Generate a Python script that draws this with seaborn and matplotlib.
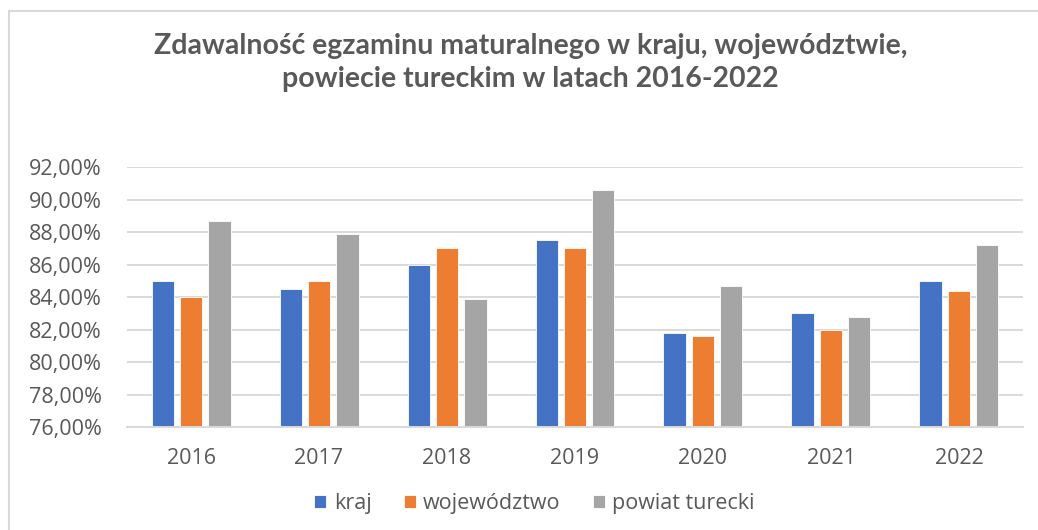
import pandas as pd
import seaborn as sns
import matplotlib.pyplot as plt
from matplotlib.ticker import FuncFormatter
from matplotlib.patches import Rectangle

# values (fraction of passed exams)
years = ["2016", "2017", "2018", "2019", "2020", "2021", "2022"]
kraj = [0.850, 0.845, 0.860, 0.875, 0.818, 0.830, 0.850]
wojewodztwo = [0.840, 0.850, 0.870, 0.870, 0.816, 0.820, 0.844]
powiat_turecki = [0.887, 0.879, 0.839, 0.906, 0.847, 0.828, 0.872]
series_names = ["kraj", "województwo", "powiat turecki"]
colors = ["#4472C4", "#ED7D31", "#A5A5A5"]

TEXT = "#595959"

df = pd.DataFrame({
    "year": years * 3,
    "value": kraj + wojewodztwo + powiat_turecki,
    "series": [s for s in series_names for _ in years],
})

sns.set_style("white")
plt.rcParams['font.family'] = ['Open Sans', 'DejaVu Sans']

fig = plt.figure(figsize=(10.38, 5.30), dpi=100)
ax = fig.add_axes([0.1224, 0.1943, 0.8631, 0.4906])

sns.barplot(
    data=df, x="year", y="value", hue="series",
    palette=colors, saturation=1, width=0.666, gap=0.22,
    edgecolor="white", linewidth=0.6, ax=ax, legend=True,
)

ax.set_ylim(0.76, 0.92)
ax.set_yticks([0.76 + 0.02 * i for i in range(9)])
ax.yaxis.set_major_formatter(FuncFormatter(lambda v, _: f"{v * 100:.2f}%".replace(".", ",")))
ax.grid(axis="y", color="#D9D9D9", linewidth=1.4)
ax.set_axisbelow(True)
ax.set_xlim(-0.5, len(years) - 0.5)
for side in ["left", "right", "top"]:
    ax.spines[side].set_visible(False)
ax.spines["bottom"].set_color("#D9D9D9")
ax.spines["bottom"].set_linewidth(1.4)
ax.tick_params(axis="both", length=0, colors=TEXT, labelsize=15.5)
ax.tick_params(axis="y", pad=18)
ax.tick_params(axis="x", pad=15)
ax.set_xlabel("")
ax.set_ylabel("")

leg = ax.legend(
    loc="center", bbox_to_anchor=(0.455, -0.295), ncol=3, frameon=False,
    fontsize=15.5, handlelength=0.55, handleheight=0.55, handletextpad=0.35,
    columnspacing=1.5,
)
for t in leg.get_texts():
    t.set_color(TEXT)

fig.text(0.511, 0.914, "Zdawalność egzaminu maturalnego w kraju, województwie,",
         ha="center", va="center", fontsize=20.5, fontweight="bold",
         color=TEXT, family=["Lato", "DejaVu Sans"])
fig.text(0.511, 0.851, "powiecie tureckim w latach 2016-2022",
         ha="center", va="center", fontsize=20.5, fontweight="bold",
         color=TEXT, family=["Lato", "DejaVu Sans"])

# chart border (only top and left edges visible in the crop)
fig.patches.append(Rectangle((9 / 1038, -0.1), 1.2, 1.1 - 11 / 530, transform=fig.transFigure,
                             fill=False, edgecolor="#D9D9D9", linewidth=1.5))

fig.savefig("out.png", dpi=100)
